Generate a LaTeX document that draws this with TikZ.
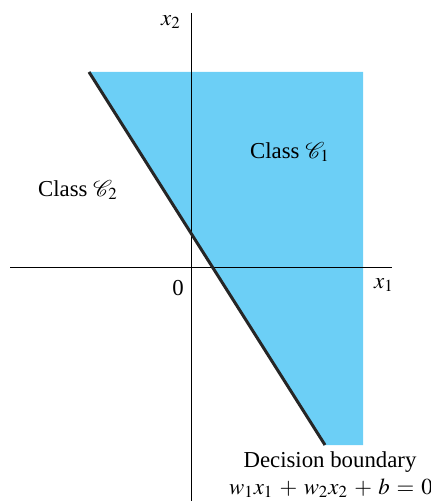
\documentclass[tikz,border=0pt]{standalone}
\usepackage{mathptmx}
\usepackage{fontspec}
\setmainfont{Liberation Serif}
\usepackage{xcolor}
\definecolor{regionblue}{RGB}{108,207,246}

\begin{document}
\begin{tikzpicture}[
  x=0.5pt, y=-0.5pt,
  font=\fontsize{11.4}{13.5}\selectfont,
  axis/.style={draw=black, line width=0.5pt},
  boundary/.style={draw=black!85, line width=1.5pt},
  region/.style={fill=regionblue, draw=none},
  lbl/.style={inner sep=0pt, align=center},
]
\useasboundingbox (0,0) rectangle (431,501);

% --- Class region and axes ---
\coordinate (btop) at (89,72);
\coordinate (bbot) at (325,445);
\fill[region] (btop) -- (363,72) -- (363,445) -- (bbot) -- cycle;

\coordinate (xleft) at (10,268);
\coordinate (xright) at (392,268);
\coordinate (ytop) at (191,13);
\coordinate (ybot) at (191,501);
\draw[axis] (xleft) -- (xright);
\draw[axis] (ytop) -- (ybot);

% --- Decision boundary ---
\draw[boundary] (btop) -- (bbot);

% --- Labels ---
\node[lbl] (xtwo) at (171,22) {$x_2$};
\node[lbl] (xone) at (384,285) {$x_1$};
\node[lbl] (origin) at (178,288) {0};
\node[lbl] (cone) at (290,152) {Class $\mathcal{C}_1$};
\node[lbl] (ctwo) at (78,190) {Class $\mathcal{C}_2$};
\node[lbl] (dbtext) at (330,462) {Decision boundary};
\node[lbl] (dbeq) at (331,488) {$\medmuskip=5mu\thickmuskip=5.5mu w_1x_1 + w_2x_2 + b = 0$};

\end{tikzpicture}
\end{document}
